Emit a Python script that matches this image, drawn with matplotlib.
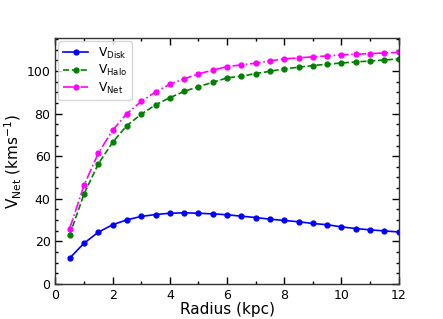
import matplotlib
matplotlib.use("Agg")
import matplotlib.pyplot as plt
import numpy as np
from matplotlib.ticker import MultipleLocator

# radius in kpc
radius = [0.5, 1.0, 1.5, 2.0, 2.5, 3.0, 3.5, 4.0, 4.5, 5.0, 5.5, 6.0,
          6.5, 7.0, 7.5, 8.0, 8.5, 9.0, 9.5, 10.0, 10.5, 11.0, 11.5, 12.0]

v_disk = [12.1, 19.1, 24.3, 27.8, 30.1, 31.7, 32.6, 33.2, 33.4, 33.2, 32.9, 32.5,
          31.8, 31.2, 30.4, 29.8, 29.2, 28.4, 27.8, 26.8, 26.0, 25.4, 24.9, 24.4]

v_halo = [23.0, 42.2, 56.4, 66.5, 74.4, 79.7, 84.1, 87.5, 90.4, 92.7, 94.7, 96.8,
          97.6, 98.8, 99.9, 101.0, 101.8, 102.6, 103.2, 103.8, 104.3, 104.7, 105.2, 105.7]

v_net = [26.0, 46.3, 61.4, 72.2, 80.0, 85.7, 90.2, 93.8, 96.3, 98.7, 100.4, 102.1,
         102.9, 103.7, 104.8, 105.7, 106.2, 106.7, 107.1, 107.6, 107.9, 108.2, 108.5, 108.8]

fig, ax = plt.subplots(figsize=(4.43, 3.19), dpi=100)

ax.plot(radius, v_disk, 'o-', color='blue', ms=3.5, lw=1.2, label=r'V$_{\rm Disk}$')
ax.plot(radius, v_halo, 'o--', color='green', ms=3.5, lw=1.2, label=r'V$_{\rm Halo}$')
ax.plot(radius, v_net, 'o-.', color='magenta', ms=3.5, lw=1.2, label=r'V$_{\rm Net}$')

ax.set_xlim(0, 12)
ax.set_ylim(0, 115.4)
ax.xaxis.set_major_locator(MultipleLocator(2))
ax.xaxis.set_minor_locator(MultipleLocator(1))
ax.yaxis.set_major_locator(MultipleLocator(20))
ax.yaxis.set_minor_locator(MultipleLocator(5))
ax.tick_params(which='both', direction='in', top=True, right=True, labelsize=9)
ax.tick_params(which='major', length=5, width=1)
ax.tick_params(which='minor', length=2.5, width=1)
for s in ax.spines.values():
    s.set_linewidth(1)
    s.set_color('#333333')

ax.set_xlabel('Radius (kpc)', fontsize=11, labelpad=0)
ax.set_ylabel(r'V$_{\rm Net}$ (kms$^{-1}$)', fontsize=11, labelpad=2)
ax.legend(loc='upper left', fontsize=8.8, handlelength=2.1, labelspacing=0.2,
          borderaxespad=0.25, borderpad=0.35)

plt.savefig("out.png", dpi=100)
